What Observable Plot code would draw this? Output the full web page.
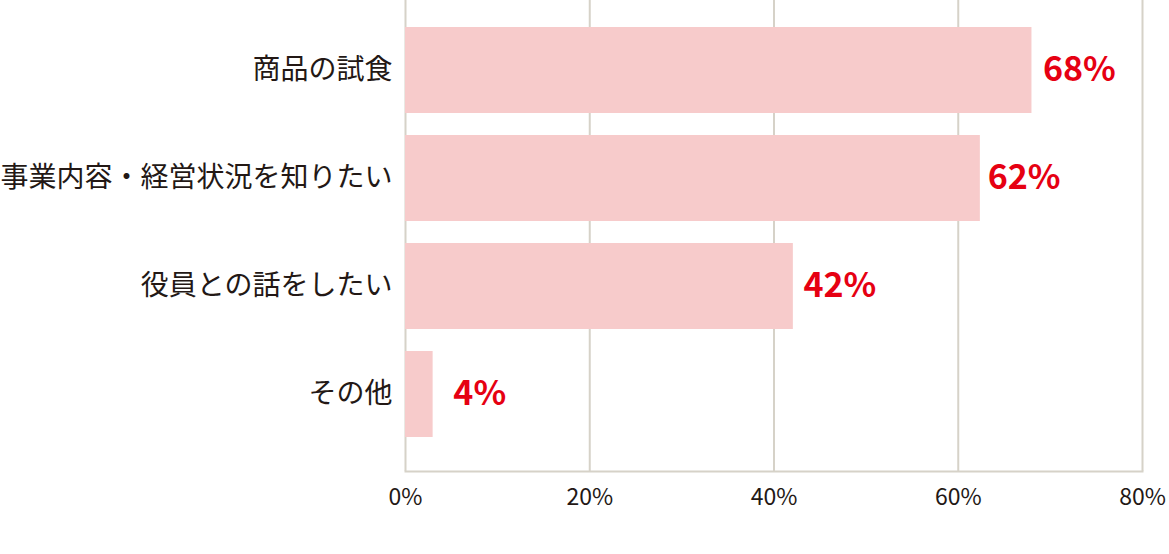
<!DOCTYPE html>
<html><head><meta charset="utf-8">
<script src="https://cdn.jsdelivr.net/npm/d3@7"></script>
<script src="https://cdn.jsdelivr.net/npm/@observablehq/plot@0.6"></script>
<style>
html,body{margin:0;padding:0;background:#fff;}
</style>
</head><body><div id="chart"></div>
<script>
const categories = ["商品の試食", "事業内容・経営状況を知りたい", "役員との話をしたい", "その他"];
const barValues = [68, 62.4, 42.1, 3];
const labelValues = [68, 62, 42, 4];
const labelTexts = ["68%", "62%", "42%", "4%"];
const xTicks = [0, 20, 40, 60, 80];

const data = categories.map((c, i) => ({cat: c, v: barValues[i], lv: labelValues[i], lt: labelTexts[i]}));
const font = "'Noto Sans CJK JP', 'Noto Sans', sans-serif";

const chart = Plot.plot({
  width: 1169,
  height: 554,
  marginLeft: 405,
  marginRight: 27,
  marginTop: 0,
  marginBottom: 83,
  style: {fontFamily: font, background: "#fff"},
  x: {domain: [0, 80]},
  y: {domain: categories, paddingInner: 0.204, paddingOuter: 0.282, align: 0.44},
  marks: [
    Plot.ruleX(xTicks, {stroke: "#d6d2c8", strokeWidth: 2}),
    Plot.frame({anchor: "bottom", stroke: "#d6d2c8", strokeWidth: 2}),
    Plot.barX(data, {x: "v", y: "cat", fill: "#f7cbcb"}),
    Plot.text(data, {x: "lv", y: "cat", text: "lt", textAnchor: "start", dx: 11, dy: 0,
      fill: "#e60012", fontWeight: "bold", fontSize: 34, fontFamily: font}),
    Plot.axisX(xTicks, {tickSize: 0, tickPadding: 17, tickFormat: d => d + "%", fontSize: 23, fill: "#231815", label: null}),
    Plot.axisY({tickSize: 0, tickPadding: 13, fontSize: 28, fill: "#231815", label: null})
  ]
});
document.getElementById("chart").appendChild(chart);
</script>
</body></html>
